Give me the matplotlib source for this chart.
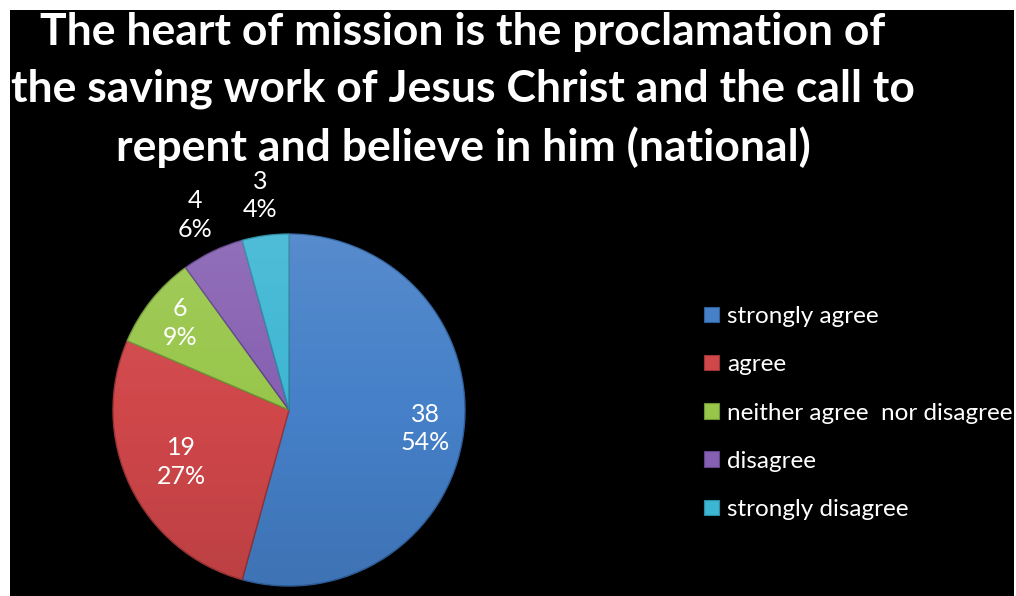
import matplotlib
matplotlib.use("Agg")
import matplotlib.pyplot as plt
import numpy as np
from matplotlib.patches import Patch

plt.rcParams["font.family"] = ["Lato", "DejaVu Sans"]

TITLE = ("The heart of mission is the proclamation of\n"
         "the saving work of Jesus Christ and the call to\n"
         "repent and believe in him (national)")
categories = ["strongly agree", "agree", "neither agree  nor disagree",
              "disagree", "strongly disagree"]
counts = [38, 19, 6, 4, 3]
colors = ["#4580c8", "#d0474a", "#98c64a", "#8660b2", "#3db6d3"]
edge_colors = ["#2f5f9c", "#9c3436", "#6f9434", "#5f4487", "#2a8aa3"]
# distance of each data label from the centre (in radii)
label_dist = [0.78, 0.68, 0.79, 1.23, 1.23]

W, H = 1016, 596
fig = plt.figure(figsize=(W / 100, H / 100), dpi=100, facecolor="white")

# black chart area inside a thin white frame
bg = fig.add_axes([10 / W, 0, (1014 - 10) / W, (H - 10) / H])
bg.set_facecolor("black")
bg.set_xticks([])
bg.set_yticks([])
for s in bg.spines.values():
    s.set_visible(False)

fig.text(463 / W, 1 - 90 / H, TITLE, color="white", fontsize=32, fontweight="bold",
         ha="center", va="center", linespacing=1.5)

cx, cy, r = 289, 410, 176
ax = fig.add_axes([(cx - r) / W, (H - cy - r) / H, 2 * r / W, 2 * r / H])
ax.axis("off")

wedges, _ = ax.pie(counts, colors=colors, startangle=90, counterclock=False,
                   radius=1.0, wedgeprops=dict(linewidth=1.0))
for w, ec in zip(wedges, edge_colors):
    w.set_edgecolor(ec)
ax.set_xlim(-1, 1)
ax.set_ylim(-1, 1)

# soft top-to-bottom shading across the pie
grad = np.linspace(0, 1, 256).reshape(-1, 1)
shade = np.zeros((256, 1, 4))
shade[..., :3] = np.where(grad[..., None] > 0.5, 1.0, 0.0)
shade[..., 3] = np.abs(grad - 0.5) * 0.2
im = ax.imshow(shade, extent=[-1, 1, -1, 1], aspect="auto", zorder=3, origin="lower")
im.set_clip_path(plt.Circle((0, 0), 1.0, transform=ax.transData))

total = sum(counts)
for w, n, d in zip(wedges, counts, label_dist):
    mid = np.deg2rad((w.theta1 + w.theta2) / 2)
    pct = round(100 * n / total)
    ax.text(d * np.cos(mid), d * np.sin(mid), f"{n}\n{pct}%", color="white",
            fontsize=18, ha="center", va="center", linespacing=1.3, zorder=5,
            clip_on=False)

handles = [Patch(facecolor=c, edgecolor=ec, linewidth=0.8)
           for c, ec in zip(colors, edge_colors)]
leg = fig.legend(handles, categories, loc="center left",
                 bbox_to_anchor=(704 / W, 1 - 413 / H), frameon=False,
                 fontsize=17.5, labelcolor="white", handlelength=0.6, handleheight=0.6,
                 handletextpad=0.35, labelspacing=1.12, borderpad=0,
                 borderaxespad=0)

fig.savefig("out.png", dpi=100, facecolor="white")
